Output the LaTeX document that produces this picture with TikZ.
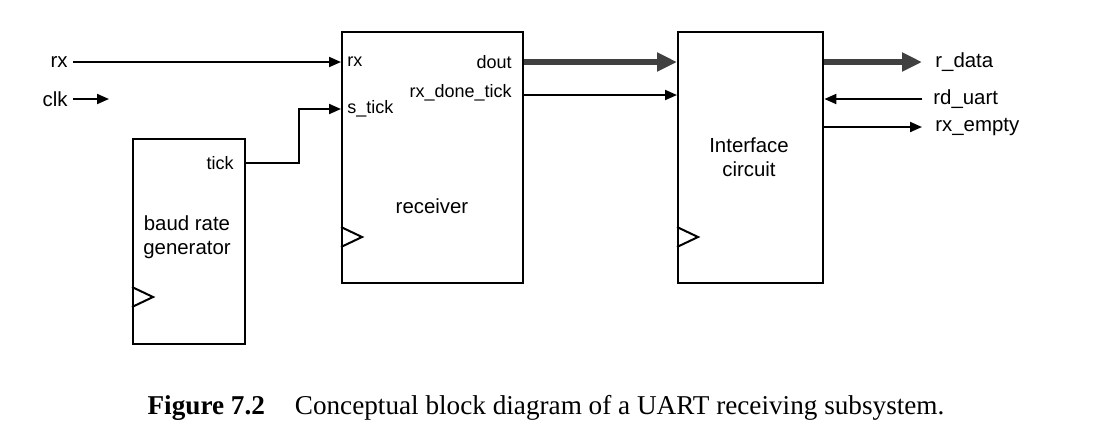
\documentclass[tikz,border=0pt]{standalone}
\usepackage{fontspec}
\setmainfont{Liberation Sans}
\newfontfamily\capfont{Liberation Serif}
\usepackage{tikz}
\usetikzlibrary{arrows.meta,calc}
\tikzset{
  blk/.style={draw, line width=1.2pt, anchor=north west, inner sep=0pt},
  port/.style={font=\fontsize{9}{10}\selectfont, inner sep=1pt},
  ext/.style={font=\fontsize{10.2}{12}\selectfont, inner sep=2.5pt},
  sig/.style={line width=1pt, -{Triangle[length=6pt,width=5pt]}},
  bus/.style={line width=3pt, black!75, -{Triangle[length=10pt,width=9pt]}},
}

\begin{document}
\begin{tikzpicture}[x=0.5pt, y=-0.5pt]

  \useasboundingbox (0,0) rectangle (1113,441);

  \newcommand\ClkMark[2]{\draw[line width=1pt] ($(#1.north west)+(0,#2)$) -- ++(21,10) -- ++(-21,10);}

  %% blocks
  \node[blk, minimum width=56pt, minimum height=102.5pt] (baud) at (132,138) {};
  \node[blk, minimum width=90.5pt, minimum height=125.5pt] (rcv) at (341,31) {};
  \node[blk, minimum width=72.5pt, minimum height=125.5pt] (ifc) at (677,31) {};

  \node[ext, align=center] (baudtxt) at (187,237) {baud rate\\generator};
  \node[ext] (rcvtxt) at (432,206) {receiver};
  \node[ext, align=center] (ifctxt) at (749,157) {Interface\\circuit};

  \ClkMark{baud}{149}
  \ClkMark{rcv}{196}
  \ClkMark{ifc}{196}

  %% ports
  \node[port, anchor=west] (rxport) at (345,62) {rx};
  \node[port, anchor=west] (stick) at (345,109) {s\_tick};
  \node[port, anchor=east] (dout) at (514,62) {dout};
  \node[port, anchor=east] (done) at (514,93) {rx\_done\_tick};
  \node[port, anchor=east] (tick) at (236,163) {tick};

  %% external signals
  \node[ext, anchor=east] (rxin) at (73,62) {rx};
  \node[ext, anchor=east] (clk) at (73,99) {clk};
  \coordinate (clkend) at (109,99);
  \node[ext, anchor=west, inner xsep=6.5pt] (rdata) at (922,62) {r\_data};
  \node[ext, anchor=west, inner xsep=5.5pt] (rduart) at (922,99) {rd\_uart};
  \node[ext, anchor=west, inner xsep=6.5pt] (rxempty) at (922,127) {rx\_empty};

  %% connectors
  \draw[sig] (rxin.east) -- (rxport -| rcv.west);
  \draw[sig] (clk.east) -- (clkend);
  \draw[sig] (tick -| baud.east) -- ++(53,0) |- (stick -| rcv.west);
  \draw[bus] (dout -| rcv.east) -- (dout -| ifc.west);
  \draw[sig] ([yshift=-1pt]done -| rcv.east) -- ([yshift=-1pt]done -| ifc.west);
  \draw[bus] (rdata -| ifc.east) -- (rdata.west);
  \draw[sig] (rduart.west) -- (rduart -| ifc.east);
  \draw[sig] (rxempty -| ifc.east) -- (rxempty.west);

  %% caption
  \node[font=\capfont\fontsize{13.6}{16}\selectfont] (cap) at (546,408)
    {\textbf{Figure 7.2}\hspace{1.1em}Conceptual block diagram of a UART receiving subsystem.};

\end{tikzpicture}
\end{document}
